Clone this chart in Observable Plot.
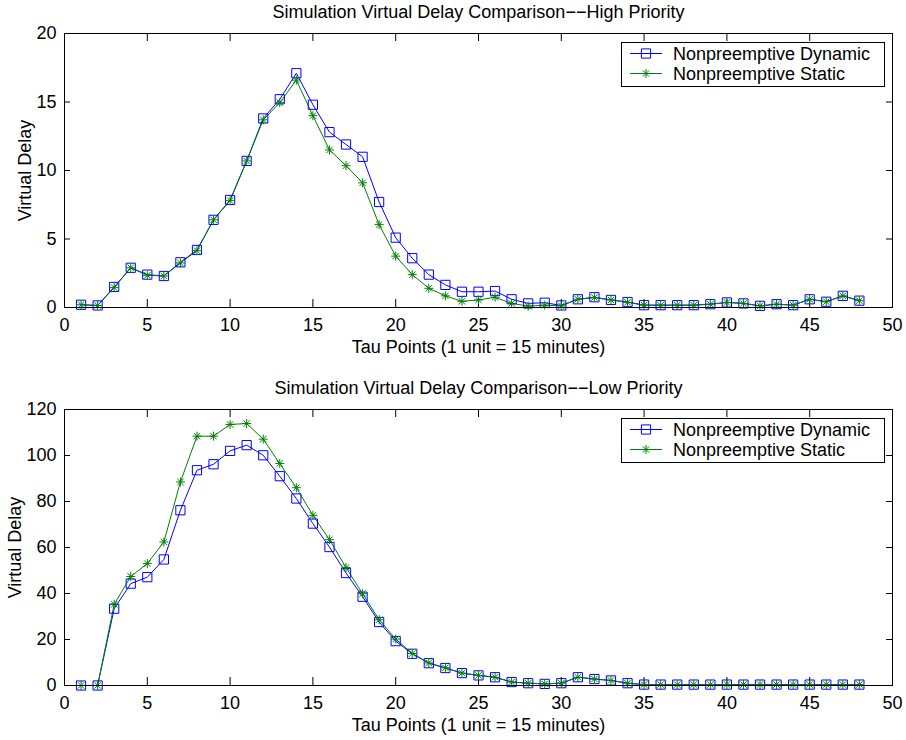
<!DOCTYPE html>
<html><head><meta charset="utf-8">
<script src="https://cdn.jsdelivr.net/npm/d3@7"></script>
<script src="https://cdn.jsdelivr.net/npm/@observablehq/plot@0.6"></script>
<style>
body{margin:0;background:#fff;}
.panel{position:relative;width:906px;}
.legend{position:absolute;}
svg text{font-family:"Liberation Sans",Arial,Helvetica,sans-serif;}
</style></head><body>
<div id="chart"></div>
<script>
const tau = [1,2,3,4,5,6,7,8,9,10,11,12,13,14,15,16,17,18,19,20,21,22,23,24,25,26,27,28,29,30,31,32,33,34,35,36,37,38,39,40,41,42,43,44,45,46,47,48];
const xTicks = [0,5,10,15,20,25,30,35,40,45,50];
const highYTicks = [0,5,10,15,20];
const lowYTicks = [0,20,40,60,80,100,120];

const highDynamic = [0.2,0.15,1.5,2.9,2.4,2.3,3.3,4.2,6.4,7.85,10.7,13.8,15.2,17.1,14.8,12.8,11.9,11.0,7.7,5.1,3.6,2.4,1.65,1.15,1.15,1.2,0.6,0.3,0.35,0.15,0.6,0.75,0.55,0.4,0.17,0.17,0.17,0.17,0.24,0.37,0.3,0.12,0.24,0.17,0.6,0.42,0.85,0.5];
const highStatic = [0.2,0.15,1.45,2.9,2.35,2.3,3.25,4.15,6.4,7.8,10.7,13.7,14.95,16.6,14.0,11.5,10.35,9.1,6.05,3.75,2.4,1.4,0.85,0.45,0.55,0.75,0.3,0.1,0.17,0.12,0.6,0.72,0.55,0.38,0.17,0.17,0.17,0.17,0.24,0.37,0.3,0.12,0.24,0.17,0.6,0.42,0.85,0.5];
const lowDynamic = [0,0,33.4,44.3,47.1,54.8,76.2,93.6,96.2,102,104.5,100.1,91,81.3,70.4,60.2,48.9,38.6,27.6,19.3,13.8,9.7,7.6,5.4,4.4,3.6,1.5,1.0,0.7,1.0,3.6,2.8,2.2,1.0,0.4,0.4,0.4,0.4,0.4,0.4,0.4,0.4,0.4,0.4,0.4,0.4,0.4,0.4];
const lowStatic = [0,0,35.3,47.4,53,62.4,88.5,108.4,108.4,113.5,113.9,107.1,96.5,86,74,63.4,51.3,39.9,28.6,20.2,13.9,9.8,7.7,5.4,4.4,3.6,1.5,1.0,0.7,1.0,3.6,2.8,2.2,1.0,0.4,0.4,0.4,0.4,0.4,0.4,0.4,0.4,0.4,0.4,0.4,0.4,0.4,0.4];

const seriesNames = ["Nonpreemptive Dynamic","Nonpreemptive Static"];
const seriesColors = ["#0000ff","#008000"];
const titles = ["Simulation Virtual Delay Comparison\u2212\u2212High Priority","Simulation Virtual Delay Comparison\u2212\u2212Low Priority"];
const xLabel = "Tau Points (1 unit = 15 minutes)";
const yLabel = "Virtual Delay";

const FONT = '"Liberation Sans",Arial,Helvetica,sans-serif';
const FS = 18;

function makeLegend() {
  const w = 264, h = 45;
  const svg = d3.create("svg").attr("width", w).attr("height", h).attr("class","legend");
  svg.append("rect").attr("x",0.5).attr("y",0.5).attr("width",w-1).attr("height",h-1)
    .attr("fill","white").attr("stroke","black").attr("stroke-width",1);
  const rows = [11.5, 31.5];
  seriesNames.forEach((name, i) => {
    const g = svg.append("g").attr("transform", `translate(0,${rows[i]})`);
    g.append("line").attr("x1",9).attr("x2",41).attr("y1",0).attr("y2",0).attr("stroke",seriesColors[i]).attr("stroke-width",1);
    if (i === 0) {
      g.append("path").attr("d", d3.symbol(d3.symbolSquare, Math.PI*5.2*5.2)()).attr("transform","translate(25,0)")
        .attr("fill","none").attr("stroke",seriesColors[i]);
    } else {
      g.append("path").attr("d", d3.symbol(d3.symbolPlus, Math.PI*3*3)()).attr("transform","translate(25,0)")
        .attr("fill","none").attr("stroke",seriesColors[i]);
      g.append("path").attr("d", d3.symbol(d3.symbolTimes, Math.PI*3*3)()).attr("transform","translate(25,0)")
        .attr("fill","none").attr("stroke",seriesColors[i]);
    }
    g.append("text").attr("x",52).attr("y",0).attr("dy","0.35em").attr("font-size",FS).attr("font-family",FONT).attr("fill","black").text(name);
  });
  return svg.node();
}

function panel({title, dyn, stat, yDomain, yTicks, height, marginTop, marginBottom, yLabelDx}) {
  const W = 906, ml = 64, mr = 14;
  const innerW = W - ml - mr, innerH = height - marginTop - marginBottom;
  const dynData = tau.map((t, i) => ({tau: t, v: dyn[i], s: seriesNames[0]}));
  const statData = tau.map((t, i) => ({tau: t, v: stat[i], s: seriesNames[1]}));
  const plot = Plot.plot({
    width: W, height, marginLeft: ml, marginRight: mr, marginTop, marginBottom,
    style: {fontFamily: FONT, fontSize: FS + "px", background: "white", color: "black", overflow: "visible"},
    x: {domain: [0, 50]},
    y: {domain: yDomain},
    color: {domain: seriesNames, range: seriesColors},
    marks: [
      Plot.tickX(xTicks, {x: d => d, insetTop: innerH - 8, stroke: "black"}),
      Plot.tickX(xTicks, {x: d => d, insetBottom: innerH - 8, stroke: "black"}),
      Plot.tickY(yTicks, {y: d => d, insetRight: innerW - 6, stroke: "black"}),
      Plot.tickY(yTicks, {y: d => d, insetLeft: innerW - 6, stroke: "black"}),
      Plot.axisX({ticks: xTicks, tickSize: 0, tickPadding: 11, label: null, fontSize: FS}),
      Plot.axisY({ticks: yTicks, tickSize: 0, tickPadding: 8, label: null, fontSize: FS}),
      Plot.text([xLabel], {text: d => d, frameAnchor: "bottom", lineAnchor: "middle", dy: 40, fontSize: FS, fill: "black"}),
      Plot.text([yLabel], {text: d => d, frameAnchor: "left", textAnchor: "middle", lineAnchor: "middle", rotate: -90, dx: yLabelDx, fontSize: FS, fill: "black"}),
      Plot.text([title], {text: d => d, frameAnchor: "top", lineAnchor: "middle", dy: -21, fontSize: FS, fill: "black"}),
      Plot.line(dynData, {x: "tau", y: "v", stroke: "s", strokeWidth: 1}),
      Plot.line(statData, {x: "tau", y: "v", stroke: "s", strokeWidth: 1}),
      Plot.dot(dynData, {x: "tau", y: "v", symbol: "square", r: 5.2, stroke: "s", fill: "none", strokeWidth: 1}),
      Plot.dot(statData, {x: "tau", y: "v", symbol: "plus", r: 3, stroke: "s", fill: "none", strokeWidth: 1}),
      Plot.dot(statData, {x: "tau", y: "v", symbol: "times", r: 3, stroke: "s", fill: "none", strokeWidth: 1}),
      Plot.frame({stroke: "black", strokeWidth: 1})
    ]
  });
  const div = document.createElement("div");
  div.className = "panel";
  div.style.height = height + "px";
  div.appendChild(plot);
  const leg = makeLegend();
  leg.style.left = "621px";
  leg.style.top = (marginTop + 9) + "px";
  div.appendChild(leg);
  return div;
}

const chart = document.getElementById("chart");
chart.appendChild(panel({title: titles[0], dyn: highDynamic, stat: highStatic, yDomain: [0, 20], yTicks: highYTicks, height: 376, marginTop: 33, marginBottom: 69, yLabelDx: -39}));
chart.appendChild(panel({title: titles[1], dyn: lowDynamic, stat: lowStatic, yDomain: [0, 120], yTicks: lowYTicks, height: 364, marginTop: 33, marginBottom: 55, yLabelDx: -49}));
</script>
</body></html>
